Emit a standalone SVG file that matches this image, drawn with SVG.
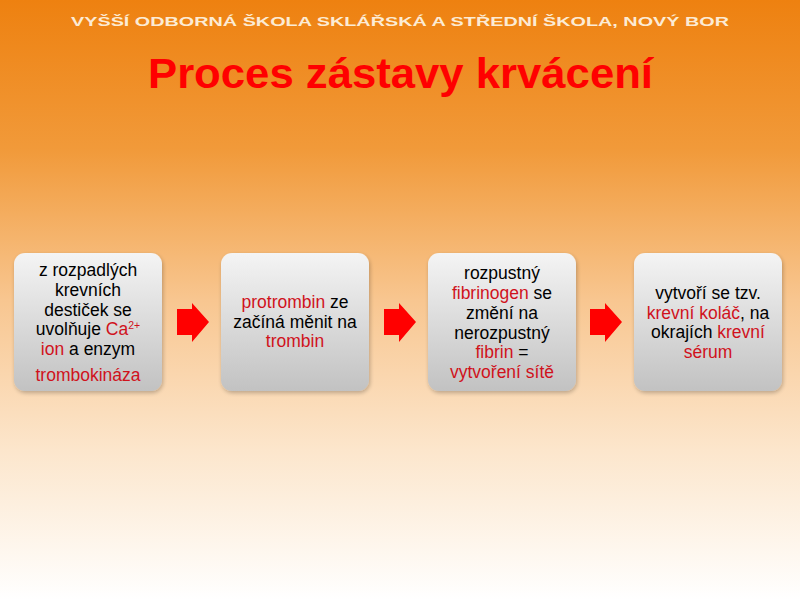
<svg xmlns="http://www.w3.org/2000/svg" width="800" height="600" viewBox="0 0 800 600">
<defs>
<linearGradient id="bg" x1="0" y1="0" x2="0" y2="1">
<stop offset="0" stop-color="#ee8110"/>
<stop offset="0.25" stop-color="#f19a3a"/>
<stop offset="0.5" stop-color="#f8c690"/>
<stop offset="0.75" stop-color="#fce6cc"/>
<stop offset="1" stop-color="#ffffff"/>
</linearGradient>
<linearGradient id="box" x1="0" y1="0" x2="0" y2="1">
<stop offset="0" stop-color="#f4f4f4"/>
<stop offset="1" stop-color="#c2c2c2"/>
</linearGradient>
<filter id="sh" x="-10%" y="-10%" width="120%" height="120%">
<feGaussianBlur in="SourceAlpha" stdDeviation="2"/>
<feOffset dx="1" dy="2"/>
<feComponentTransfer><feFuncA type="linear" slope="0.25"/></feComponentTransfer>
<feMerge><feMergeNode/><feMergeNode in="SourceGraphic"/></feMerge>
</filter>
<path id="arr" d="M0,-13 H15 V-19 L32,0 L15,20 V13 H0 Z" fill="#ff0000"/>
</defs>
<style>
.box{fill:url(#box);filter:url(#sh)}
.t{font-family:"Liberation Sans",Arial,sans-serif;font-size:17.5px;fill:#000;text-anchor:middle}
.r{fill:#d0121c}
</style>
<rect width="800" height="600" fill="url(#bg)"/>
<text x="71" y="26" textLength="658" lengthAdjust="spacingAndGlyphs" font-family="'Liberation Sans',Arial,sans-serif" font-weight="bold" font-size="12.5" fill="#fcebd4">VYŠŠÍ ODBORNÁ ŠKOLA SKLÁŘSKÁ A STŘEDNÍ ŠKOLA, NOVÝ BOR</text>
<text x="148" y="88" textLength="505" lengthAdjust="spacingAndGlyphs" font-family="'Liberation Sans',Arial,sans-serif" font-weight="bold" font-size="43" fill="#ff0000">Proces zástavy krvácení</text>
<g id="node1">
<rect class="box" x="14" y="253" width="148" height="138" rx="11"/>
<text class="t"><tspan x="88" y="276">z rozpadlých</tspan><tspan x="88" y="296">krevních</tspan><tspan x="88" y="316">destiček  se</tspan><tspan x="88" y="335">uvolňuje <tspan class="r">Ca</tspan><tspan class="r" font-size="10.5" dy="-6">2+</tspan></tspan><tspan x="88" y="355"><tspan class="r">ion</tspan> a enzym</tspan><tspan x="88" y="381" class="r">trombokináza</tspan></text>
</g>
<g id="node2">
<rect class="box" x="221" y="253" width="148" height="138" rx="11"/>
<text class="t"><tspan x="295" y="308"><tspan class="r">protrombin</tspan> ze</tspan><tspan x="295" y="328">začíná měnit na</tspan><tspan x="295" y="347" class="r">trombin</tspan></text>
</g>
<g id="node3">
<rect class="box" x="428" y="253" width="148" height="138" rx="11"/>
<text class="t"><tspan x="502" y="279">rozpustný</tspan><tspan x="502" y="299"><tspan class="r">fibrinogen</tspan> se</tspan><tspan x="502" y="319">změní na</tspan><tspan x="502" y="339">nerozpustný</tspan><tspan x="502" y="358"><tspan class="r">fibrin</tspan> =</tspan><tspan x="502" y="378" class="r">vytvoření sítě</tspan></text>
</g>
<g id="node4">
<rect class="box" x="634" y="253" width="148" height="138" rx="11"/>
<text class="t"><tspan x="708" y="299">vytvoří se tzv.</tspan><tspan x="708" y="319"><tspan class="r">krevní koláč</tspan>, na</tspan><tspan x="708" y="338">okrajích <tspan class="r">krevní</tspan></tspan><tspan x="708" y="358" class="r">sérum</tspan></text>
</g>
<g id="connectors">
<use href="#arr" x="177" y="322"/>
<use href="#arr" x="384" y="322"/>
<use href="#arr" x="590" y="322"/>
</g>
</svg>
